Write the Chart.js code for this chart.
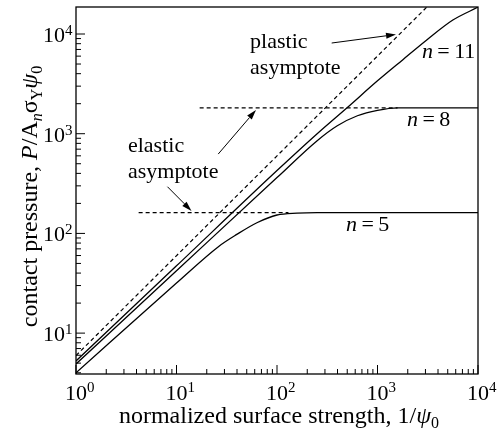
<!DOCTYPE html>
<html>
<head>
<meta charset="utf-8">
<script src="https://cdn.jsdelivr.net/npm/chart.js@4.4.0/dist/chart.umd.min.js"></script>
<style>
    html, body { margin: 0; padding: 0; background: #fff; }
    #wrap { position: relative; width: 498px; height: 432px; }
</style>
</head>
<body>
<div id="wrap"><canvas id="pressure-chart"></canvas></div>
<script>
// Curves (x = 1/psi0, y = contact pressure)
const n11X = [1, 10, 100, 251, 508, 1000, 1778, 3090, 5620, 10000];
const n11Y = [5.25, 47.3, 427, 1000, 1854, 3390, 5500, 8710, 13800, 18600];
const n8X = [1, 10, 100, 251, 398, 631, 1000, 1585, 10000];
const n8Y = [4.9, 42.2, 363, 851, 1202, 1514, 1718, 1820, 1820];
const n5X = [1, 10, 26.3, 39.8, 63.1, 100, 158, 251, 10000];
const n5Y = [4.0, 31.8, 74.1, 97.7, 128, 153, 160, 162, 162];

// Asymptotes (dashed)
const plasticX = [1, 3100];
const plasticY = [5.96, 18660];
const elastic8X = [17, 1585];
const elastic8Y = [1820, 1820];
const elastic5X = [4.2, 130];
const elastic5Y = [162, 162];

// Axis ranges and tick labels
const xRange = [1, 10000];
const yRange = [3.89, 18660];
const xMajorTicks = [1, 10, 100, 1000, 10000];
const xTickExp = ['0', '1', '2', '3', '4'];
const yMajorTicks = [10, 100, 1000, 10000];
const yTickExp = ['1', '2', '3', '4'];

// Annotation texts and arrows (in data coordinates)
const noteTexts = ['plastic', 'asymptote', 'elastic', 'asymptote'];
const noteX = [54, 54, 3.29, 3.29];
const noteY = [7300, 3975, 655, 360];
const curveNames = ['11', '8', '5'];
const curveNameX = [2770, 1967, 486];
const curveNameY = [5740, 1194, 106];
const arrowFromX = [350, 26, 8.13];
const arrowFromY = [8120, 625, 294];
const arrowToX = [1528, 61.8, 14.1];
const arrowToY = [9890, 1730, 168];

const SERIF = '"Liberation Serif", "Times New Roman", serif';

function toPoints(xs, ys) {
    return xs.map((x, i) => ({ x: x, y: ys[i] }));
}

// pieces: [text, size, italic, raise]
function piecesWidth(ctx, pieces) {
    let w = 0;
    pieces.forEach(p => {
        ctx.font = (p[2] ? 'italic ' : '') + p[1] + 'px ' + SERIF;
        w += ctx.measureText(p[0]).width;
    });
    return w;
}

function drawPieces(ctx, pieces, x, y) {
    let cx = x;
    pieces.forEach(p => {
        ctx.font = (p[2] ? 'italic ' : '') + p[1] + 'px ' + SERIF;
        ctx.fillText(p[0], cx, y - (p[3] || 0));
        cx += ctx.measureText(p[0]).width;
    });
}

function drawArrow(ctx, x1, y1, x2, y2) {
    const ang = Math.atan2(y2 - y1, x2 - x1);
    const len = 10, half = 3;
    ctx.beginPath();
    ctx.moveTo(x1, y1);
    ctx.lineTo(x2 - Math.cos(ang) * len, y2 - Math.sin(ang) * len);
    ctx.stroke();
    ctx.beginPath();
    ctx.moveTo(x2, y2);
    ctx.lineTo(x2 - Math.cos(ang) * len - Math.sin(ang) * half, y2 - Math.sin(ang) * len + Math.cos(ang) * half);
    ctx.lineTo(x2 - Math.cos(ang) * len + Math.sin(ang) * half, y2 - Math.sin(ang) * len - Math.cos(ang) * half);
    ctx.closePath();
    ctx.fill();
}

// Frame, inward ticks, labels and notes
const framePlugin = {
    id: 'frameAndLabels',
    afterDraw(chart) {
        const ctx = chart.ctx;
        const area = chart.chartArea;
        const xs = chart.scales.x;
        const ys = chart.scales.y;
        ctx.save();
        ctx.strokeStyle = '#000';
        ctx.fillStyle = '#000';
        ctx.lineWidth = 1.3;
        ctx.strokeRect(area.left, area.top, area.right - area.left, area.bottom - area.top);

        // ticks
        ctx.lineWidth = 1;
        ctx.beginPath();
        xMajorTicks.forEach((d, i) => {
            const px = xs.getPixelForValue(d);
            ctx.moveTo(px, area.bottom);
            ctx.lineTo(px, area.bottom - 9);
            if (i < xMajorTicks.length - 1) {
                for (let k = 2; k <= 9; k++) {
                    const mx = xs.getPixelForValue(k * d);
                    ctx.moveTo(mx, area.bottom);
                    ctx.lineTo(mx, area.bottom - 5);
                }
            }
        });
        [1].concat(yMajorTicks).forEach(d => {
            if (d >= yRange[0]) {
                const py = ys.getPixelForValue(d);
                ctx.moveTo(area.left, py);
                ctx.lineTo(area.left + 9, py);
            }
            for (let k = 2; k <= 9; k++) {
                const v = k * d;
                if (v < yRange[0] || v > yRange[1]) continue;
                const my = ys.getPixelForValue(v);
                ctx.moveTo(area.left, my);
                ctx.lineTo(area.left + 5, my);
            }
        });
        ctx.stroke();

        // tick labels
        ctx.textBaseline = 'alphabetic';
        ctx.textAlign = 'left';
        xMajorTicks.forEach((d, i) => {
            const px = xs.getPixelForValue(d);
            ctx.font = '22px ' + SERIF;
            const w = ctx.measureText('10').width;
            drawPieces(ctx, [['10', 22], [xTickExp[i], 15, false, 8]], px - w / 2, area.bottom + 26);
        });
        yMajorTicks.forEach((d, i) => {
            const py = ys.getPixelForValue(d);
            ctx.font = '22px ' + SERIF;
            const w = ctx.measureText('10').width;
            drawPieces(ctx, [['10', 22], [yTickExp[i], 15, false, 7]], area.left - 11 - w, py + 8);
        });

        // axis titles
        const xTitle = [['normalized surface strength, 1/', 24], ['\u03c8', 24, true], ['0', 16, false, -5]];
        const xw = piecesWidth(ctx, xTitle);
        drawPieces(ctx, xTitle, (area.left + area.right) / 2 + 2 - xw / 2, area.bottom + 49);

        const yTitle = [['contact pressure, ', 24], ['P', 24, true], ['/A', 24], ['n', 16, true, -5],
            ['\u03c3', 24], ['Y', 16, false, -5], ['\u03c8', 24, true], ['0', 16, false, -5]];
        const yw = piecesWidth(ctx, yTitle);
        ctx.save();
        ctx.translate(37, (area.top + area.bottom) / 2 + 6);
        ctx.rotate(-Math.PI / 2);
        drawPieces(ctx, yTitle, -yw / 2, 0);
        ctx.restore();

        // notes
        noteTexts.forEach((t, i) => {
            drawPieces(ctx, [[t, 22]], xs.getPixelForValue(noteX[i]), ys.getPixelForValue(noteY[i]));
        });
        curveNames.forEach((t, i) => {
            drawPieces(ctx, [['n', 22, true], ['\u2009=\u2009' + t, 22]],
                xs.getPixelForValue(curveNameX[i]), ys.getPixelForValue(curveNameY[i]));
        });

        // arrows
        ctx.lineWidth = 1;
        arrowFromX.forEach((x, i) => {
            drawArrow(ctx, xs.getPixelForValue(x), ys.getPixelForValue(arrowFromY[i]),
                xs.getPixelForValue(arrowToX[i]), ys.getPixelForValue(arrowToY[i]));
        });
        ctx.restore();
    }
};

const solid = { borderColor: '#000', borderWidth: 1.3, pointRadius: 0, cubicInterpolationMode: 'monotone', fill: false };
const dashed = { borderColor: '#000', borderWidth: 1.2, pointRadius: 0, borderDash: [4, 3], fill: false };

new Chart(document.getElementById('pressure-chart'), {
    type: 'line',
    data: {
        datasets: [
            Object.assign({ label: 'n=11', data: toPoints(n11X, n11Y) }, solid),
            Object.assign({ label: 'n=8', data: toPoints(n8X, n8Y) }, solid),
            Object.assign({ label: 'n=5', data: toPoints(n5X, n5Y) }, solid),
            Object.assign({ label: 'plastic asymptote', data: toPoints(plasticX, plasticY) }, dashed),
            Object.assign({ label: 'elastic n=8', data: toPoints(elastic8X, elastic8Y) }, dashed),
            Object.assign({ label: 'elastic n=5', data: toPoints(elastic5X, elastic5Y) }, dashed)
        ]
    },
    options: {
        responsive: true,
        maintainAspectRatio: false,
        animation: false,
        layout: { padding: { left: 76, right: 20, top: 7, bottom: 58 } },
        plugins: { legend: { display: false }, tooltip: { enabled: false } },
        scales: {
            x: { type: 'logarithmic', display: false, min: xRange[0], max: xRange[1] },
            y: { type: 'logarithmic', display: false, min: yRange[0], max: yRange[1] }
        }
    },
    plugins: [framePlugin]
});
</script>
</body>
</html>
